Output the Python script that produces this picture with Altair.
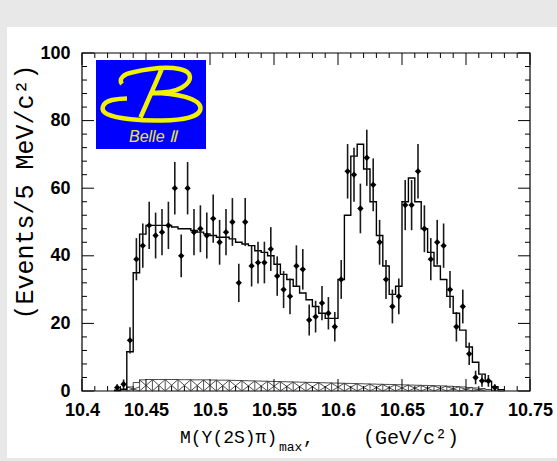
import altair as alt
import pandas as pd
import numpy as np

# ---------------- data ----------------
bin_centers = [10.4275, 10.4325, 10.4375, 10.4425, 10.4475, 10.4525, 10.4575, 10.4625, 10.4675, 10.4725,
               10.4775, 10.4825, 10.4875, 10.4925, 10.4975, 10.5025, 10.5075, 10.5125, 10.5175, 10.5225,
               10.5275, 10.5325, 10.5375, 10.5425, 10.5475, 10.5525, 10.5575, 10.5625, 10.5675, 10.5725,
               10.5775, 10.5825, 10.5875, 10.5925, 10.5975, 10.6025, 10.6075, 10.6125, 10.6175, 10.6225,
               10.6275, 10.6325, 10.6375, 10.6425, 10.6475, 10.6525, 10.6575, 10.6625, 10.6675, 10.6725,
               10.6775, 10.6825, 10.6875, 10.6925, 10.6975, 10.7025, 10.7075, 10.7125, 10.7175, 10.7225,
               10.7275]

data_counts = [1, 2, 15, 39, 43, 49, 46, 47, 49, 60,
               40, 60, 47, 48, 46, 51, 44, 47, 50, 32,
               50, 37, 38, 38, 42, 34, 30, 28, 37, 36,
               21, 22, 26, 23, 19, 33, 65, 64, 54, 69,
               61, 44, 33, 25, 28, 55, 55, 65, 48, 39,
               44, 43, 30, 19, 25, 11, 4, 3, 3, 1]

fit_values = [0.2, 0.5, 11.6, 35, 46.4, 49, 49, 49, 49, 48.5,
              48, 48, 47.5, 47, 46.5, 46, 45.5, 45.5, 45, 44,
              43.5, 43, 41.5, 41, 40, 37.5, 34.5, 33, 31, 29,
              27, 25, 23, 21.5, 21.5, 33, 52, 69.5, 73, 65.7,
              56, 46, 37, 28.6, 31, 56, 63, 56, 48, 41,
              37, 33, 28, 23, 18, 13, 8.5, 5, 2.8, 1.3,
              0.4]

bkg_values = [0.0, 0.3, 1.2, 2.5, 3.3, 3.4, 3.4, 3.4, 3.4, 3.4,
              3.35, 3.35, 3.3, 3.3, 3.3, 3.25, 3.2, 3.2, 3.15, 3.1,
              3.05, 3.0, 2.95, 2.9, 2.85, 2.8, 2.75, 2.7, 2.65, 2.6,
              2.55, 2.5, 2.45, 2.4, 2.35, 2.3, 2.25, 2.2, 2.15, 2.1,
              2.05, 2.0, 1.95, 1.9, 1.85, 1.8, 1.75, 1.7, 1.65, 1.6,
              1.55, 1.5, 1.4, 1.3, 1.2, 1.05, 0.9, 0.7, 0.45, 0.2,
              0.0]

bin_width = 0.005
x_tick_labels = [10.4, 10.45, 10.5, 10.55, 10.6, 10.65, 10.7, 10.75]
y_tick_labels = [0, 20, 40, 60, 80, 100]

y_title = "(Events/5 MeV/c²)"
x_title_main = "M(Υ(2S)π)"
x_title_sub = "max"
x_title_comma = ","
x_title_unit = "(GeV/c²)"
logo_text = "Belle Ⅱ"

# ---------------- tables ----------------
pts = pd.DataFrame({"m": bin_centers[:len(data_counts)], "n": data_counts})
pts["lo"] = pts["n"] - np.sqrt(pts["n"])
pts["hi"] = pts["n"] + np.sqrt(pts["n"])

edges = [c - bin_width / 2 for c in bin_centers] + [bin_centers[-1] + bin_width / 2]
fit_df = pd.DataFrame({"m": edges, "n": fit_values + [fit_values[-1]]})
bkg_df = pd.DataFrame({"m": edges, "n": bkg_values + [bkg_values[-1]]})

seg = []
vert = []
for i in range(0, len(bin_centers) - 1, 2):
    x0 = edges[i]
    x1 = edges[i + 2]
    h = min(bkg_values[i], bkg_values[i + 1])
    if h < 0.5:
        continue
    seg.append({"m": x0, "m2": x1, "n": 0, "n2": h})
    seg.append({"m": x0, "m2": x1, "n": h, "n2": 0})
    vert.append({"m": x0, "n": 0, "n2": h})
hatch_df = pd.DataFrame(seg)
vert_df = pd.DataFrame(vert)

major_x = pd.DataFrame({"m": x_tick_labels})
minor_x = pd.DataFrame({"m": [round(10.4 + 0.01 * k, 3) for k in range(1, 35) if k % 5 != 0]})
major_y = pd.DataFrame({"n": y_tick_labels})
minor_y = pd.DataFrame({"n": [4 * k for k in range(1, 25) if k % 5 != 0]})

# ---------------- layout ----------------
W, H = 448, 338
xs = alt.Scale(domain=[10.4, 10.75], nice=False, zero=False)
ys = alt.Scale(domain=[0, 100], nice=False, zero=True)
one = pd.DataFrame({"a": [0]})

x_axis = alt.Axis(values=x_tick_labels, format="~g", labelFont="Liberation Sans", labelFontWeight="bold",
                  labelFontSize=18, labelColor="black", ticks=False, tickSize=0, domain=False, grid=False,
                  labelPadding=10, labelFlush=False, labelOverlap=False, title=None, zindex=2)
y_axis = alt.Axis(values=y_tick_labels, labelFont="Liberation Sans", labelFontWeight="bold",
                  labelFontSize=18, labelColor="black", ticks=False, tickSize=0, domain=False, grid=False,
                  labelPadding=12, labelFlush=False, labelOverlap=False, title=None, zindex=2)

X = alt.X("m:Q", scale=xs, axis=x_axis)
Y = alt.Y("n:Q", scale=ys, axis=y_axis)

panel = alt.Chart(one).mark_rect(fill="white").encode(
    x=alt.value(-75), x2=alt.value(475), y=alt.value(-26), y2=alt.value(405))
frame = alt.Chart(one).mark_rect(filled=False, stroke="black", strokeWidth=1.2).encode(
    x=alt.value(0), x2=alt.value(W), y=alt.value(0), y2=alt.value(H))

hatch = alt.Chart(hatch_df).mark_rule(color="#3a3a3a", strokeWidth=0.9).encode(
    x=X, x2="m2:Q", y=Y, y2="n2:Q")
hatch_v = alt.Chart(vert_df).mark_rule(color="#3a3a3a", strokeWidth=0.9).encode(
    x=X, y=Y, y2="n2:Q")
bkg_line = alt.Chart(bkg_df).mark_line(interpolate="step-after", color="#333333", strokeWidth=0.9).encode(
    x=X, y=Y)
fit_line = alt.Chart(fit_df).mark_line(interpolate="step-after", color="black", strokeWidth=1.4).encode(
    x=X, y=Y)
err = alt.Chart(pts).mark_rule(color="#1a1a1a", strokeWidth=1.6).encode(
    x=X, y=alt.Y("lo:Q", scale=ys, axis=y_axis), y2="hi:Q")
dots = alt.Chart(pts).mark_point(shape="diamond", filled=True, size=40, color="black", opacity=1).encode(
    x=X, y=Y)

def xt(df, y0, y1):
    return alt.Chart(df).mark_rule(color="black", strokeWidth=1).encode(
        x=X, y=alt.value(y0), y2=alt.value(y1))

def yt(df, x0, x1):
    return alt.Chart(df).mark_rule(color="black", strokeWidth=1).encode(
        y=Y, x=alt.value(x0), x2=alt.value(x1))

ticks = [xt(major_x, H, H - 12), xt(minor_x, H, H - 5), xt(major_x, 0, 12), xt(minor_x, 0, 5),
         yt(major_y, 0, 12), yt(minor_y, 0, 5), yt(major_y, W, W - 12), yt(minor_y, W, W - 5)]

logo_bg = alt.Chart(one).mark_rect(fill="#0000FF").encode(
    x=alt.value(14), x2=alt.value(124), y=alt.value(7), y2=alt.value(96))

b_path = ("M -0.6 -0.22 C -0.68 -0.32 -0.55 -0.43 -0.4 -0.45 "
          "C -0.1 -0.52 0.3 -0.57 0.55 -0.52 C 0.82 -0.47 0.82 -0.28 0.6 -0.15 "
          "C 0.45 -0.06 0.2 -0.04 0.0 -0.04 "
          "C 0.5 -0.04 0.95 0.07 0.97 0.25 C 0.98 0.45 0.6 0.5 0.2 0.51 "
          "C -0.2 0.52 -0.7 0.48 -0.9 0.38 C -1.05 0.3 -1.0 0.15 -0.8 0.1 "
          "C -0.7 0.08 -0.6 0.07 -0.5 0.07 "
          "M 0.2 -0.53 L -0.23 0.45")
logo_b = alt.Chart(one).mark_point(shape=b_path, size=10000, filled=False, stroke="#F2F200",
                                   strokeWidth=4.5, opacity=1).encode(
    x=alt.value(70), y=alt.value(42))
logo_t = alt.Chart(pd.DataFrame({"t": [logo_text]})).mark_text(
    font="Liberation Sans", fontStyle="italic", fontSize=16, color="#E8E83A", align="center",
    baseline="middle").encode(text="t:N", x=alt.value(71), y=alt.value(84))

def label(txt, x, y, size, align="left", angle=0):
    return alt.Chart(pd.DataFrame({"t": [txt]})).mark_text(
        font="Liberation Mono", fontSize=size, color="black", align=align, baseline="middle",
        angle=angle).encode(text="t:N", x=alt.value(x), y=alt.value(y))

titles = [label(y_title, -57, 139, 25, align="center", angle=270),
          label(x_title_main, 98, 385, 18),
          label(x_title_sub, 197, 394, 13),
          label(x_title_comma, 221, 386, 18),
          label(x_title_unit, 329, 385, 20, align="center")]

chart = alt.layer(panel, frame, hatch, hatch_v, bkg_line, fit_line, err, dots, *ticks,
                  logo_bg, logo_b, logo_t, *titles).properties(
    width=W, height=H,
    autosize=alt.AutoSizeParams(type="none"),
    padding={"left": 82, "top": 53, "right": 27, "bottom": 70},
    background="#e8e8e8",
).configure_view(stroke=None)

chart.save("out.html", embed_options={"renderer": "svg", "actions": False})
